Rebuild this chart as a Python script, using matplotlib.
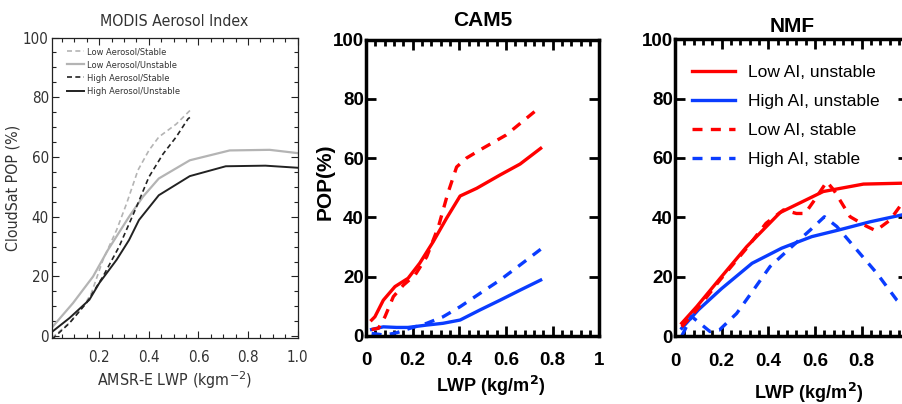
import matplotlib
matplotlib.use('Agg')
import matplotlib.pyplot as plt
from matplotlib import font_manager
from matplotlib.ticker import MultipleLocator

# MODIS observations (panel 1)
obs_x_low_stable = [0.01, 0.08, 0.14, 0.168, 0.215, 0.27, 0.31, 0.356, 0.40, 0.44, 0.51, 0.572]
obs_y_low_stable = [-0.5, 4.5, 10.5, 14.4, 25.6, 35.6, 44.4, 55.6, 62.2, 66.7, 71.0, 76.1]
obs_x_low_unstable = [0.01, 0.094, 0.175, 0.235, 0.32, 0.376, 0.44, 0.565, 0.726, 0.887, 1.0]
obs_y_low_unstable = [3.0, 11.1, 20.0, 28.9, 40.0, 46.7, 52.8, 58.9, 62.2, 62.4, 61.3]
obs_x_high_stable = [0.01, 0.08, 0.148, 0.215, 0.28, 0.35, 0.40, 0.457, 0.51, 0.558, 0.576]
obs_y_high_stable = [-1.0, 4.4, 11.1, 20.0, 30.0, 43.3, 53.3, 61.0, 66.7, 72.8, 73.9]
obs_x_high_unstable = [0.01, 0.08, 0.16, 0.20, 0.27, 0.32, 0.36, 0.44, 0.565, 0.71, 0.87, 1.0]
obs_y_high_unstable = [1.5, 6.1, 12.2, 17.8, 25.6, 32.2, 38.9, 47.2, 53.6, 56.9, 57.1, 56.4]
obs_labels = ['Low Aerosol/Stable', 'Low Aerosol/Unstable', 'High Aerosol/Stable', 'High Aerosol/Unstable']

# CAM5 (panel 2)
cam_x_low_unst = [0.024, 0.038, 0.074, 0.124, 0.18, 0.23, 0.288, 0.345, 0.403, 0.474, 0.574, 0.66, 0.748]
cam_y_low_unst = [5.3, 6.4, 12.0, 16.6, 19.4, 24.5, 31.8, 39.7, 47.2, 49.8, 54.3, 58.0, 63.3]
cam_x_low_stab = [0.024, 0.053, 0.081, 0.117, 0.16, 0.21, 0.26, 0.31, 0.35, 0.388, 0.43, 0.5, 0.6, 0.748]
cam_y_low_stab = [2.1, 2.5, 6.4, 13.2, 17.1, 20.5, 26.7, 36.8, 48.0, 57.0, 60.0, 63.3, 67.8, 77.4]
cam_x_high_unst = [0.024, 0.074, 0.131, 0.18, 0.26, 0.33, 0.403, 0.488, 0.574, 0.66, 0.748]
cam_y_high_unst = [2.1, 3.0, 2.8, 2.8, 3.6, 4.2, 5.3, 8.7, 12.0, 15.4, 18.8]
cam_x_high_stab = [0.024, 0.081, 0.131, 0.188, 0.26, 0.33, 0.403, 0.488, 0.574, 0.66, 0.748]
cam_y_high_stab = [0.8, 0.2, 1.0, 2.5, 4.2, 6.4, 9.8, 14.3, 18.8, 23.9, 29.2]

# NMF (panel 3)
nmf_x_low_unst = [0.029, 0.093, 0.193, 0.307, 0.45, 0.635, 0.807, 0.971, 1.0]
nmf_y_low_unst = [4.3, 9.9, 19.4, 30.1, 41.6, 48.7, 51.2, 51.5, 51.5]
nmf_x_high_unst = [0.029, 0.1, 0.2, 0.33, 0.457, 0.586, 0.70, 0.836, 0.971, 1.0]
nmf_y_high_unst = [2.6, 8.8, 16.0, 24.5, 29.6, 33.5, 35.7, 38.5, 40.8, 41.2]
nmf_x_low_stab = [0.029, 0.093, 0.193, 0.307, 0.39, 0.465, 0.52, 0.557, 0.593, 0.65, 0.68, 0.75, 0.82, 0.86, 0.92, 0.966, 1.0]
nmf_y_low_stab = [3.1, 8.8, 18.9, 29.6, 38.0, 42.5, 41.3, 41.3, 45.3, 52.0, 49.2, 40.2, 37.0, 35.5, 39.0, 44.0, 46.0]
nmf_x_high_stab = [0.029, 0.071, 0.15, 0.19, 0.264, 0.336, 0.407, 0.493, 0.579, 0.64, 0.693, 0.779, 0.865, 0.95, 0.966, 1.0]
nmf_y_high_stab = [0.0, 6.6, 1.5, 2.0, 7.6, 15.5, 23.4, 29.6, 35.7, 40.2, 36.9, 29.0, 21.1, 12.1, 11.0, 8.0]
nmf_labels = ['Low AI, unstable', 'High AI, unstable', 'Low AI, stable', 'High AI, stable']

RED = '#ff0000'
BLUE = '#0a3cff'
LIGHT = '#b4b4b4'
DARK = '#222222'
GREYTXT = '#333333'
bold = ['Liberation Sans', 'DejaVu Sans']


# the observation panel uses a condensed face; take what is installed
def pick_narrow():
    fonts = font_manager.fontManager.ttflist
    if any(f.name == 'Liberation Sans Narrow' for f in fonts):
        return 'Liberation Sans Narrow', 'normal', 1.0
    if any('Condensed' in f.fname and f.name == 'DejaVu Sans' for f in fonts):
        return 'DejaVu Sans', 'condensed', 0.95
    return 'Liberation Sans', 'normal', 0.88


narrow, stretch, scale = pick_narrow()
small = 7 * scale
big = 11.5 * scale

fig = plt.figure(figsize=(9.02, 4.04), dpi=100)

# ---- panel 1: MODIS ----
ax1 = fig.add_axes([0.0573, 0.1641, 0.2727, 0.743])
ax1.plot(obs_x_low_stable, obs_y_low_stable, color=LIGHT, lw=1.2, ls=(0, (3, 2)), label=obs_labels[0])
ax1.plot(obs_x_low_unstable, obs_y_low_unstable, color=LIGHT, lw=1.6, label=obs_labels[1])
ax1.plot(obs_x_high_stable, obs_y_high_stable, color=DARK, lw=1.2, ls=(0, (3, 2)), label=obs_labels[2])
ax1.plot(obs_x_high_unstable, obs_y_high_unstable, color=DARK, lw=1.4, label=obs_labels[3])
ax1.set_xlim(0.008, 1.0)
ax1.set_ylim(-0.5, 100)
ax1.xaxis.set_major_locator(MultipleLocator(0.2))
ax1.xaxis.set_minor_locator(MultipleLocator(0.05))
ax1.yaxis.set_major_locator(MultipleLocator(20))
ax1.yaxis.set_minor_locator(MultipleLocator(5))
ax1.set_xticks([0.2, 0.4, 0.6, 0.8, 1.0])
ax1.set_xticklabels(['0.2', '0.4', '0.6', '0.8', '1.0'])
ax1.tick_params(which='both', direction='in', top=True, right=True, colors=DARK, width=0.8)
ax1.tick_params(which='major', length=5, labelsize=big)
ax1.tick_params(which='minor', length=3)
ax1.tick_params(axis='x', pad=9)
ax1.tick_params(axis='y', pad=2)
for lab in ax1.get_xticklabels() + ax1.get_yticklabels():
    lab.set_family(narrow)
    lab.set_stretch(stretch)
    lab.set_color(GREYTXT)
for sp in ax1.spines.values():
    sp.set_linewidth(0.9)
    sp.set_color(DARK)
ax1.set_title('MODIS Aerosol Index', family=narrow, stretch=stretch, fontsize=12 * scale, color=GREYTXT, pad=8)
ax1.set_ylabel('CloudSat POP (%)', family=narrow, stretch=stretch, fontsize=12 * scale, color=GREYTXT)
ax1.set_xlabel(r'AMSR-E LWP (kgm$^{-2}$)', family=narrow, stretch=stretch, fontsize=12 * scale, color=GREYTXT, labelpad=3)
ax1.yaxis.set_label_coords(-0.125, 0.5)
leg1 = ax1.legend(loc='upper left', bbox_to_anchor=(0.03, 0.995), frameon=False,
                  prop={'family': narrow, 'stretch': stretch, 'size': small}, handlelength=1.8,
                  handletextpad=0.35, labelspacing=0.45)
for t in leg1.get_texts():
    t.set_color(GREYTXT)


def model_axes(rect, title, title_pad, xlabels):
    ax = fig.add_axes(rect)
    ax.set_xlim(0, 1)
    ax.set_ylim(0, 100)
    ax.xaxis.set_major_locator(MultipleLocator(0.2))
    ax.xaxis.set_minor_locator(MultipleLocator(0.04))
    ax.yaxis.set_major_locator(MultipleLocator(20))
    ax.set_xticks([0, 0.2, 0.4, 0.6, 0.8, 1.0])
    ax.set_xticklabels(xlabels)
    ax.tick_params(which='both', direction='in', top=True, right=True, width=2)
    ax.tick_params(which='major', length=7, labelsize=13.5)
    ax.tick_params(which='minor', length=4)
    ax.tick_params(axis='x', pad=12)
    ax.tick_params(axis='y', pad=1.5)
    for lab in ax.get_xticklabels() + ax.get_yticklabels():
        lab.set_family(bold)
        lab.set_weight('bold')
    for sp in ax.spines.values():
        sp.set_linewidth(2.5)
    ax.set_title(title, family=bold, fontweight='bold', fontsize=15, pad=title_pad)
    ax.set_xlabel(r'LWP (kg/m$^\mathbf{2}$)', family=bold, fontweight='bold', fontsize=13)
    return ax


# ---- panel 2: CAM5 ----
ax2 = model_axes([0.4058, 0.169, 0.2588, 0.7327], 'CAM5', 10,
                 ['0', '0.2', '0.4', '0.6', '0.8', '1'])
ax2.plot(cam_x_low_unst, cam_y_low_unst, color=RED, lw=2.4)
ax2.plot(cam_x_high_unst, cam_y_high_unst, color=BLUE, lw=2.4)
ax2.plot(cam_x_low_stab, cam_y_low_stab, color=RED, lw=2.4, ls=(0, (3, 2.5)))
ax2.plot(cam_x_high_stab, cam_y_high_stab, color=BLUE, lw=2.4, ls=(0, (3, 2.5)))
ax2.set_ylabel('POP(%)', family=bold, fontweight='bold', fontsize=15)
ax2.yaxis.set_label_coords(-0.133, 0.52)
ax2.xaxis.set_label_coords(0.533, -0.13)

# ---- panel 3: NMF (right edge runs off the page, as in the source) ----
ax3 = model_axes([0.7483, 0.1683, 0.2589, 0.7344], 'NMF', 5,
                 ['0', '0.2', '0.4', '0.6', '0.8', ''])
ax3.plot(nmf_x_low_unst, nmf_y_low_unst, color=RED, lw=2.4, label=nmf_labels[0])
ax3.plot(nmf_x_high_unst, nmf_y_high_unst, color=BLUE, lw=2.4, label=nmf_labels[1])
ax3.plot(nmf_x_low_stab, nmf_y_low_stab, color=RED, lw=2.4, ls=(0, (3, 2.5)), label=nmf_labels[2])
ax3.plot(nmf_x_high_stab, nmf_y_high_stab, color=BLUE, lw=2.4, ls=(0, (3, 2.5)), label=nmf_labels[3])
ax3.xaxis.set_label_coords(0.574, -0.15)
ax3.legend(loc='upper left', bbox_to_anchor=(0.005, 0.968), frameon=False,
           prop={'family': bold, 'size': 12.5}, handlelength=2.5,
           handletextpad=0.75, labelspacing=0.8)

plt.savefig('out.png', dpi=100)
